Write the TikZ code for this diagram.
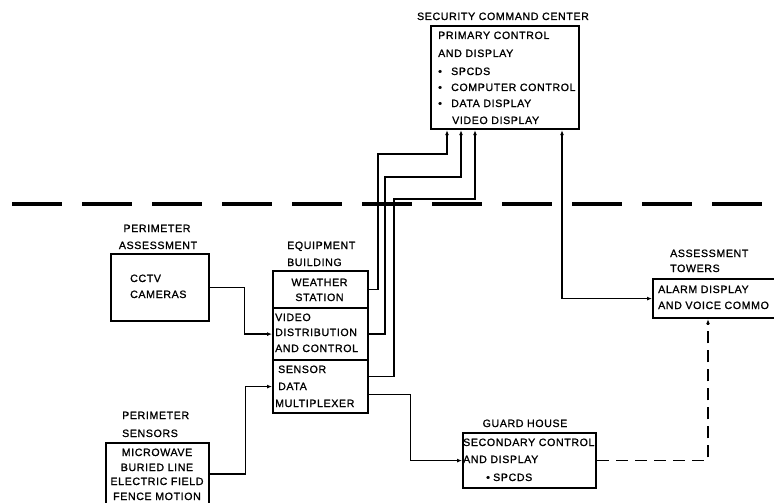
\documentclass[tikz,border=0pt]{standalone}
\usepackage{fontspec}
\setmainfont{Liberation Sans}[LetterSpace=6,FakeBold=1.2]
\usetikzlibrary{arrows.meta}
\newcommand\mybul[1]{\makebox[#1][l]{•}}
\begin{document}
\begin{tikzpicture}[x=1pt,y=-1pt,
  box/.style={draw, line width=2.2pt, inner sep=0pt, anchor=north west},
  lbl/.style={inner sep=0pt, anchor=base west, font=\fontsize{10.6}{12}\selectfont},
  clbl/.style={lbl, anchor=base},
  tip/.style={-{Latex[length=5pt,width=4pt]}},
  conn/.style={line width=1.4pt, tip},
  dconn/.style={conn, dash pattern=on 12pt off 7pt},
  perim/.style={line width=4pt, dash pattern=on 50pt off 20pt}]
\useasboundingbox (0,0) rectangle (774,503);
\clip (0,0) rectangle (774,503);

% perimeter line
\coordinate (pl) at (12,204);
\coordinate (pr) at (762,204);
\draw[perim] (pl) -- (pr);

% boxes
\node[box, minimum width=148pt, minimum height=103pt] (scc) at (430,25) {};
\node[box, minimum width=95pt, minimum height=37pt] (weather) at (272,270) {};
\node[box, minimum width=95pt, minimum height=52pt] (video) at (272,307) {};
\node[box, minimum width=95pt, minimum height=53pt] (sensor) at (272,359) {};
\node[box, minimum width=98pt, minimum height=67pt] (cam) at (110,253) {};
\node[box, minimum width=103pt, minimum height=66pt] (sens) at (105,442) {};
\node[box, minimum width=133pt, minimum height=55pt] (gh) at (462,432) {};
\node[box, minimum width=150pt, minimum height=39pt] (tow) at (652,278) {};

% security command center
\node[clbl] (sccT) at (503,20) {SECURITY COMMAND CENTER};
\node[lbl] (s1) at (438,39) {PRIMARY CONTROL};
\node[lbl] (s2) at (438,57) {AND DISPLAY};
\node[lbl] (s3) at (438,75) {\mybul{13pt}SPCDS};
\node[lbl] (s4) at (438,91) {\mybul{13pt}COMPUTER CONTROL};
\node[lbl] (s5) at (438,107) {\mybul{13pt}DATA DISPLAY};
\node[lbl] (s6) at (452,124) {VIDEO DISPLAY};

% equipment building
\node[lbl] (eb1) at (287,249) {EQUIPMENT};
\node[lbl] (eb2) at (287,266) {BUILDING};
\node[clbl] (w1) at (319.5,286) {WEATHER};
\node[clbl] (w2) at (319.5,301) {STATION};
\node[lbl] (v1) at (275,321) {VIDEO};
\node[lbl] (v2) at (275,336) {DISTRIBUTION};
\node[lbl] (v3) at (275,352) {AND CONTROL};
\node[lbl] (m1) at (278,373) {SENSOR};
\node[lbl] (m2) at (278,390) {DATA};
\node[lbl] (m3) at (275,407) {MULTIPLEXER};

% perimeter assessment
\node[clbl] (pa1) at (157,232) {PERIMETER};
\node[clbl] (pa2) at (158,249) {ASSESSMENT};
\node[lbl] (c1) at (130,282) {CCTV};
\node[lbl] (c2) at (130,298) {CAMERAS};

% perimeter sensors
\node[lbl] (ps1) at (122,419) {PERIMETER};
\node[lbl] (ps2) at (122,437) {SENSORS};
\node[clbl] (p1) at (157,456) {MICROWAVE};
\node[clbl] (p2) at (157,471) {BURIED LINE};
\node[clbl] (p3) at (157,485) {ELECTRIC FIELD};
\node[clbl] (p4) at (157,500) {FENCE MOTION};

% guard house
\node[clbl] (ghT) at (525,427) {GUARD HOUSE};
\node[lbl] (g1) at (463,446) {SECONDARY CONTROL};
\node[lbl] (g2) at (463,463) {AND DISPLAY};
\node[lbl] (g3) at (486,481) {\mybul{7pt}SPCDS};

% assessment towers
\node[lbl] (at1) at (670,257) {ASSESSMENT};
\node[lbl] (at2) at (670,272) {TOWERS};
\node[lbl] (a1) at (658,293) {ALARM DISPLAY};
\node[lbl] (a2) at (658,309) {AND VOICE COMMO};

% connectors
\draw[conn] (weather.east) -| (378,154) -| ([xshift=17pt]scc.south west);
\draw[conn] (video.east) -| (385,177) -| ([xshift=31pt]scc.south west);
\draw[conn] ([yshift=10pt]sensor.east) -| (394,199) -| ([xshift=45pt]scc.south west);
\draw[conn] ([yshift=-8pt]sensor.east) -- ++(41,0) |- (gh.west);
\draw[conn] (cam.east) -- ++(34,0) |- (video.west);
\draw[conn] ([yshift=2pt]sens.east) -- ++(35,0) |- (sensor.west);
\draw[line width=1.4pt, {Latex[length=5pt,width=4pt]}-{Latex[length=5pt,width=4pt]}]
  ([xshift=132pt]scc.south west) |- (tow.west);
\draw[dconn] (gh.east) -| ([xshift=56pt]tow.south west);
\end{tikzpicture}
\end{document}
